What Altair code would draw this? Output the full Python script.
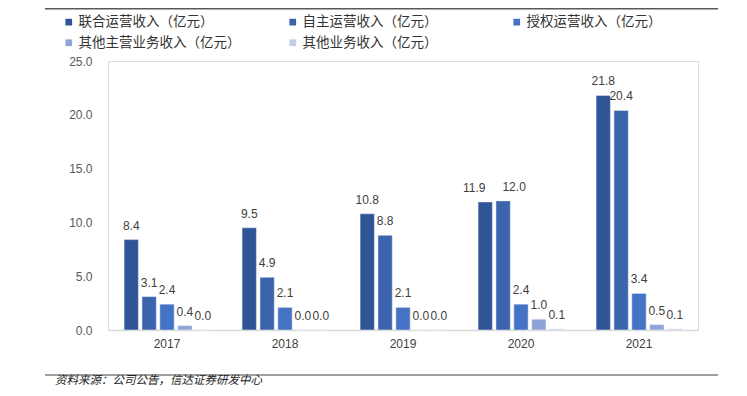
import altair as alt
import pandas as pd

years = ["2017", "2018", "2019", "2020", "2021"]
series = ["联合运营收入（亿元）", "自主运营收入（亿元）", "授权运营收入（亿元）",
          "其他主营业务收入（亿元）", "其他业务收入（亿元）"]
lianhe = [8.4, 9.5, 10.8, 11.9, 21.8]
zizhu = [3.1, 4.9, 8.8, 12.0, 20.4]
shouquan = [2.4, 2.1, 2.1, 2.4, 3.4]
qita_zhuying = [0.4, 0.0, 0.0, 1.0, 0.5]
qita_yewu = [0.0, 0.0, 0.0, 0.1, 0.1]
colors = ["#2F5597", "#3B64AD", "#4472C4", "#8FA4D6", "#C3CEEA"]
source_text = "资料来源：公司公告，信达证券研发中心"

rows = []
for s, vals in zip(series, [lianhe, zizhu, shouquan, qita_zhuying, qita_yewu]):
    for y, v in zip(years, vals):
        rows.append({"year": y, "series": s, "value": v})
df = pd.DataFrame(rows)

NUM_FONT = "Liberation Sans, Arial, Noto Sans CJK SC"
CJK_FONT = "Noto Sans CJK SC"

x = alt.X("year:N", sort=years,
          scale=alt.Scale(paddingInner=0, paddingOuter=0),
          axis=alt.Axis(title=None, labelAngle=0, ticks=False, domainColor="#D9D9D9",
                        domainWidth=1.5, labelFontSize=12, labelColor="#404040",
                        labelFont=NUM_FONT, labelPadding=8))
xo = alt.XOffset("series:N", sort=series,
                 scale=alt.Scale(paddingInner=0.2, paddingOuter=0.9))
y = alt.Y("value:Q",
          scale=alt.Scale(domain=[0, 25]),
          axis=alt.Axis(title=None, values=[0, 5, 10, 15, 20, 25], format=".1f",
                        grid=False, domain=False, ticks=False, labelFontSize=12,
                        labelColor="#595959", labelFont=NUM_FONT, labelPadding=16))
color = alt.Color("series:N", sort=series,
                  scale=alt.Scale(domain=series, range=colors),
                  legend=alt.Legend(title=None, orient="none", legendX=-46, legendY=-46,
                                    columns=3, columnPadding=45, rowPadding=6,
                                    gridAlign="all", labelLimit=300,
                                    symbolType="square", symbolSize=45,
                                    symbolStrokeWidth=0, labelFontSize=13.5,
                                    labelFont=CJK_FONT, labelColor="#333333",
                                    labelOffset=3, direction="horizontal"))

base = alt.Chart(df).encode(x=x, xOffset=xo, y=y)
bars = base.mark_bar(stroke="#E8EDF7", strokeWidth=0.5).encode(color=color)

lbl_kw = dict(baseline="bottom", fontSize=12, font=NUM_FONT, color="#404040")
txt = alt.Text("value:Q", format=".1f")
nudge_a = (alt.datum.year == "2020") & (alt.datum.series == series[0])
nudge_b = (alt.datum.year == "2020") & (alt.datum.series == series[1])
labels = base.mark_text(dy=-7, **lbl_kw).encode(text=txt).transform_filter(
    ~(nudge_a | nudge_b))
labels_a = base.mark_text(dy=-7, dx=-11, **lbl_kw).encode(text=txt).transform_filter(nudge_a)
labels_b = base.mark_text(dy=-7, dx=11, **lbl_kw).encode(text=txt).transform_filter(nudge_b)

line_df = pd.DataFrame({"k": [0]})
top_rule = alt.Chart(line_df).mark_rule(color="#595959", strokeWidth=1.5).encode(
    x=alt.value(-63), x2=alt.value(610), y=alt.value(-52.2))
bottom_rule = alt.Chart(line_df).mark_rule(color="#808080", strokeWidth=1.5).encode(
    x=alt.value(-63), x2=alt.value(610), y=alt.value(314))
src = alt.Chart(line_df).mark_text(align="left", baseline="middle", fontSize=11.5,
                                   font=CJK_FONT, fontStyle="italic",
                                   color="#222222").encode(
    x=alt.value(-53), y=alt.value(320), text=alt.value(source_text))

chart = alt.layer(bars, labels, labels_a, labels_b, top_rule, bottom_rule, src).properties(
    width=590, height=269,
    autosize=alt.AutoSizeParams(type="none"),
    padding={"left": 100, "top": 53, "right": 41, "bottom": 58},
).configure_view(stroke=None).configure(background="white")

chart.save("out.html", embed_options={"renderer": "svg", "actions": False})
